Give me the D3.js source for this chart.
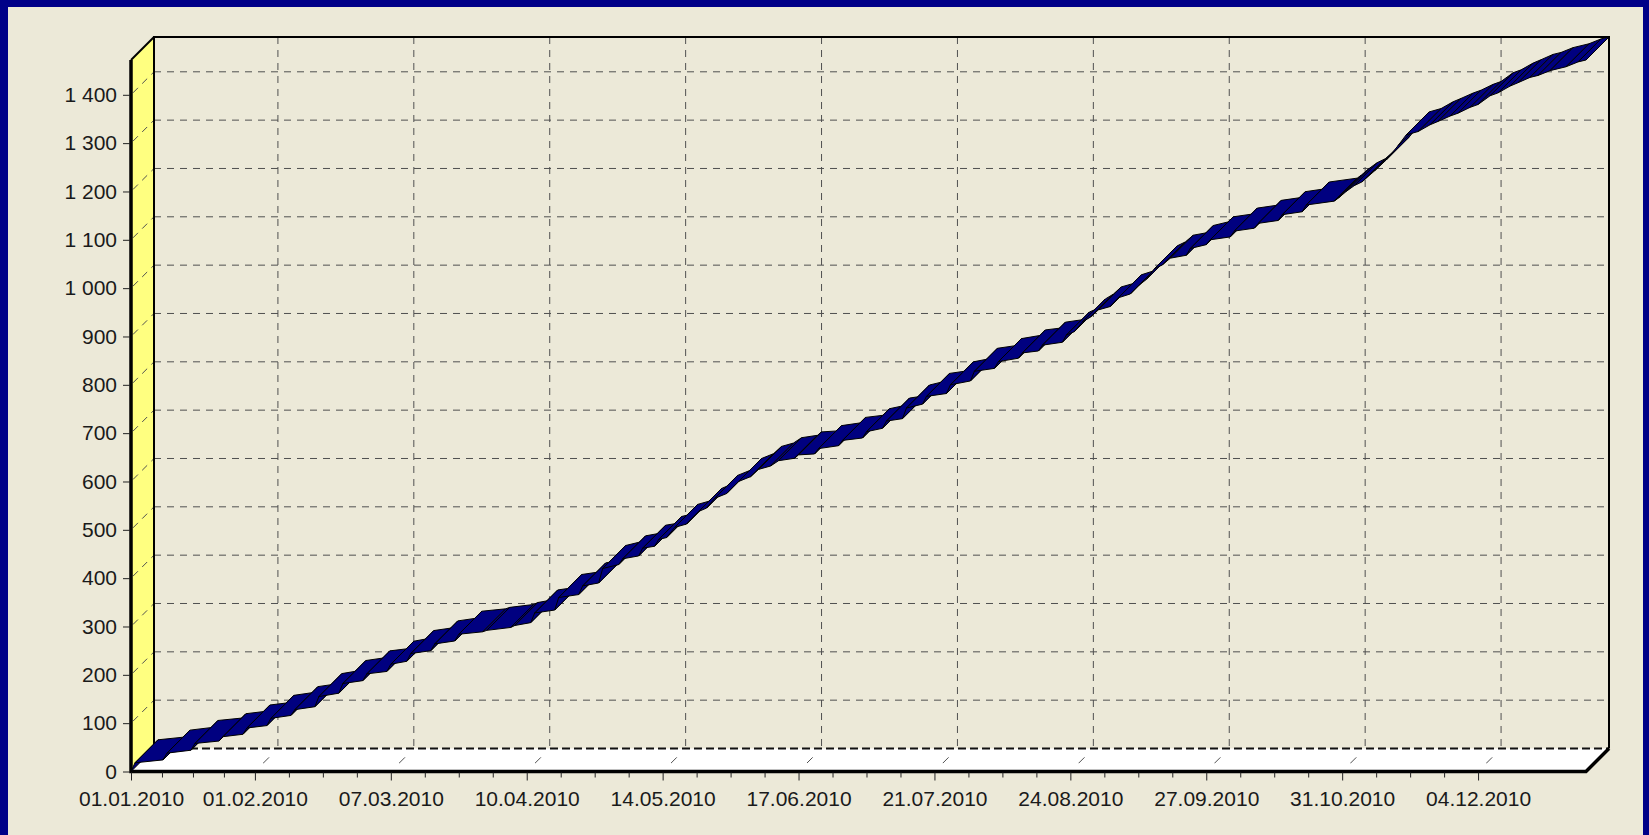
<!DOCTYPE html>
<html>
<head>
<meta charset="utf-8">
<script src="https://cdnjs.cloudflare.com/ajax/libs/d3/7.8.5/d3.min.js"></script>
<style>
body { margin: 0; background: #000088; }
svg { display: block; }
text { font-family: Arial, "Liberation Sans", sans-serif; }
</style>
</head>
<body>
<script>
// series: day number since 01.01.2010 and cumulative value
var days = [0,1,8,9,15,16,22,23,28,29,
  34,35,40,41,46,47,52,53,58,59,
  64,65,69,70,75,76,81,82,88,89,
  95,96,100,101,106,107,112,113,117,118,
  122,123,127,128,131,132,134,136,139,142,
  144,146,149,152,155,157,160,162,166,167,
  171,172,177,178,183,184,188,189,193,194,
  198,199,204,205,210,211,216,217,222,223,
  227,228,233,234,236,238,240,242,245,247,
  250,252,254,256,258,260,264,265,269,270,
  275,276,281,282,287,288,293,294,301,302,
  304,306,308,311,314,317,319,322,325,327,
  330,332,335,337,340,342,345,347,350,352,
  355,359,362,364];
var values = [0,18,24,38,44,58,63,72,77,90,
  95,110,116,128,134,155,162,182,188,202,
  207,222,228,244,250,264,270,284,289,292,
  298,302,308,328,334,360,366,384,390,420,
  428,440,446,462,466,480,484,505,512,538,
  545,565,575,600,610,625,632,643,648,655,
  657,668,674,685,690,703,710,725,730,752,
  760,776,782,800,808,828,834,848,855,866,
  870,882,888,903,910,930,940,955,962,980,
  988,1005,1018,1040,1048,1062,1068,1082,1090,1100,
  1106,1118,1124,1134,1140,1152,1158,1172,1180,1186,
  1200,1212,1220,1242,1265,1295,1317,1324,1338,1345,
  1356,1362,1374,1380,1398,1404,1418,1425,1436,1440,
  1450,1458,1468,1472];

var xLabels = ["01.01.2010","01.02.2010","07.03.2010","10.04.2010","14.05.2010","17.06.2010",
  "21.07.2010","24.08.2010","27.09.2010","31.10.2010","04.12.2010"];
var yTicks = [0,100,200,300,400,500,600,700,800,900,1000,1100,1200,1300,1400];

var width = 1649;
var height = 835;
var dx = 23, dy = 23;   // depth of the 3d walls

var parse = d3.utcParse("%d.%m.%Y");
var fmtDate = d3.utcFormat("%d.%m.%Y");
var ru = d3.formatLocale({decimal: ",", thousands: " ", grouping: [3], currency: ["", ""]});
var fmtNum = ru.format(",d");
var start = parse("01.01.2010");

var svgContainer = d3.select("body").append("svg")
.attr("width", width)
.attr("height", height);

svgContainer.append("rect")
.attr("width", width).attr("height", height)
.attr("fill", "#000088");
svgContainer.append("rect")
.attr("x", 8).attr("y", 7)
.attr("width", 1635).attr("height", height - 7)
.attr("fill", "#ece9d8");

var x = d3.scaleUtc()
.domain([start, parse("31.12.2010")])
.range([131, 1586]);

var y = d3.scaleLinear()
.domain([0, d3.max(values)])
.range([771.5, 60]);

var x0 = x.range()[0], x1 = x.range()[1];
var yb = y(0), yt = y(d3.max(values));

function pts(a) { return a.map(function(p){ return p.join(","); }).join(" "); }

// back wall
svgContainer.append("rect")
.attr("x", x0 + dx).attr("y", yt - dy)
.attr("width", x1 - x0).attr("height", yb - yt)
.attr("fill", "#ece9d8");

// left wall
svgContainer.append("polygon")
.attr("points", pts([[x0, yb], [x0, yt], [x0 + dx, yt - dy], [x0 + dx, yb - dy]]))
.attr("fill", "#ffff80");

// floor
svgContainer.append("polygon")
.attr("points", pts([[x0, yb], [x1, yb], [x1 + dx, yb - dy], [x0 + dx, yb - dy]]))
.attr("fill", "#ffffff");

var labelDates = xLabels.map(parse);

// grid on back wall
var grid = svgContainer.append("g")
.attr("stroke", "#505050")
.attr("stroke-width", 1)
.attr("stroke-dasharray", "7,6");

grid.selectAll(".hg").data(yTicks.slice(1)).enter().append("line")
.attr("x1", x0 + dx).attr("x2", x1 + dx)
.attr("y1", function(d){ return y(d) - dy; })
.attr("y2", function(d){ return y(d) - dy; });

grid.selectAll(".vg").data(labelDates.slice(1)).enter().append("line")
.attr("x1", function(d){ return x(d) + dx; })
.attr("x2", function(d){ return x(d) + dx; })
.attr("y1", yt - dy).attr("y2", yb - dy);

// grid on left wall and floor
grid.selectAll(".wg").data(yTicks.slice(1)).enter().append("line")
.attr("x1", x0 + 2).attr("x2", x0 + dx)
.attr("y1", function(d){ return y(d) - 2; })
.attr("y2", function(d){ return y(d) - dy; });

grid.selectAll(".fg").data(labelDates.slice(1)).enter().append("line")
.attr("stroke-dasharray", "0,12,8,40")
.attr("x1", function(d){ return x(d); })
.attr("x2", function(d){ return x(d) + dx; })
.attr("y1", yb).attr("y2", yb - dy);

// back edge of the floor
svgContainer.append("line")
.attr("x1", x0 + dx).attr("x2", x1 + dx)
.attr("y1", yb - dy).attr("y2", yb - dy)
.attr("stroke", "#111")
.attr("stroke-width", 2)
.attr("stroke-dasharray", "8,4");

// frame lines
var frame = svgContainer.append("g").attr("fill", "none").attr("stroke", "#000");
frame.append("polyline")
.attr("points", pts([[x0 + dx, yb - dy], [x0 + dx, yt - dy], [x1 + dx, yt - dy], [x1 + dx, yb - dy]]))
.attr("stroke-width", 2);
frame.append("line")
.attr("x1", x0).attr("y1", yt).attr("x2", x0 + dx).attr("y2", yt - dy)
.attr("stroke-width", 2);
frame.append("polyline")
.attr("points", pts([[x0, yt], [x0, yb], [x1, yb], [x1 + dx, yb - dy]]))
.attr("stroke-width", 3.5)
.attr("stroke-linejoin", "miter");

// 3d line series, one ribbon quad per segment
var data = days.map(function(d, i){ return {date: d3.utcDay.offset(start, d), value: values[i]}; });
var segs = d3.pairs(data);

svgContainer.append("g").selectAll("polygon")
.data(segs)
.enter().append("polygon")
.attr("points", function(s){
  var ax = x(s[0].date), ay = y(s[0].value);
  var bx = x(s[1].date), by = y(s[1].value);
  return pts([[ax, ay], [bx, by], [bx + dx, by - dy], [ax + dx, ay - dy]]);
})
.attr("fill", "#000080")
.attr("stroke", "#000")
.attr("stroke-width", 1)
.attr("stroke-linejoin", "round");

// axes
var yAxis = svgContainer.append("g")
.attr("transform", "translate(" + (x0 - 1) + ",0)")
.call(d3.axisLeft(y).tickValues(yTicks).tickSize(7).tickPadding(6).tickFormat(fmtNum));

var xAxis = svgContainer.append("g")
.attr("transform", "translate(0," + (yb + 1) + ")")
.call(d3.axisBottom(x).tickValues(labelDates).tickSize(8).tickPadding(11).tickFormat(fmtDate));

// minor ticks, three between labels
var minor = [];
for (var i = 0; i < labelDates.length - 1; i++) {
  var a = +labelDates[i], b = +labelDates[i + 1];
  for (var k = 1; k < 4; k++) minor.push(new Date(a + (b - a) * k / 4));
}
var xMinor = svgContainer.append("g")
.attr("transform", "translate(0," + (yb + 1) + ")")
.call(d3.axisBottom(x).tickValues(minor).tickSize(5).tickFormat(""));

[yAxis, xAxis, xMinor].forEach(function(g){
  g.select(".domain").remove();
  g.selectAll("line").attr("stroke", "#222");
  g.selectAll("text").attr("fill", "#1a1a1a").style("font-size", "21px");
});
</script>
</body>
</html>
